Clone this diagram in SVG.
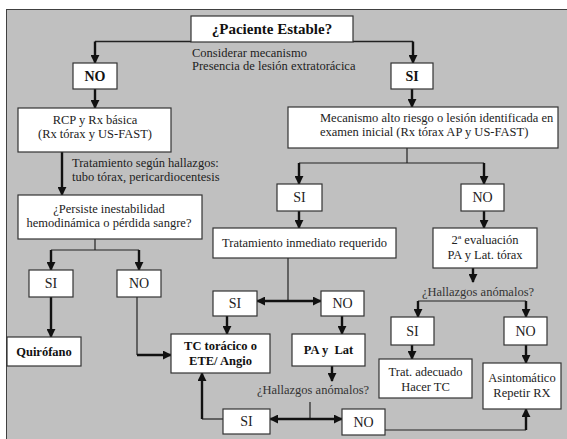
<svg xmlns="http://www.w3.org/2000/svg" width="567" height="439" viewBox="0 0 567 439" font-family="'Liberation Serif', 'Times New Roman', Times, 'DejaVu Serif', serif">
  <defs>
    <style>
      .box { fill: #ffffff; stroke: #333333; stroke-width: 1.2; }
      .t { font-family: 'Liberation Serif', 'Times New Roman', Times, 'DejaVu Serif', serif; font-size: 12.5px; fill: #222222; }
      .c { text-anchor: middle; }
      .b { font-weight: bold; fill: #111111; }
      .thin { fill: none; stroke: #222222; stroke-width: 1.2; }
      .thick { fill: none; stroke: #111111; stroke-width: 2.4; }
      .arr { marker-end: url(#ah); }
      .dbl { marker-start: url(#ah); marker-end: url(#ah); }
    </style>
    <marker id="ah" viewBox="0 0 10 10" refX="9" refY="5" markerWidth="9" markerHeight="9" markerUnits="userSpaceOnUse" orient="auto-start-reverse">
      <path d="M0,0 L10,5 L0,10 z" fill="#111111"/>
    </marker>
  </defs>

  <!-- background panel -->
  <rect x="6.5" y="9.5" width="570" height="440" fill="#c0c0c0" stroke="#404040" stroke-width="1"/>

  <!-- connectors -->
  <g id="connectors">
    <path class="thin" d="M95,41.5 H191 M353,41.5 H413" style="stroke-width:1.6"/>
    <path class="thick arr" d="M95,41.5 V63"/>
    <path class="thick arr" d="M413,41.5 V63"/>
    <path class="thick arr" d="M95,89 V108"/>
    <path class="thick arr" d="M412,89 V107"/>
    <path class="thick arr" d="M62,152 V195"/>

    <path class="thin" d="M95,239 V250 M51,250 H139"/>
    <path class="thick arr" d="M51,250 V270"/>
    <path class="thick arr" d="M139,250 V270"/>
    <path class="thick arr" d="M51,297 V337"/>
    <path class="thin" d="M137,297 V355"/>
    <path class="thick arr" d="M137,355 H171"/>

    <path class="thin" d="M407,148 V163 M299,163 H484"/>
    <path class="thick arr" d="M299,163 V184"/>
    <path class="thick arr" d="M484,163 V184"/>
    <path class="thick arr" d="M299,211 V228"/>
    <path class="thick arr" d="M484,211 V228"/>

    <path class="thin" d="M288,258 V301"/>
    <path class="thick dbl" d="M257,301 H321"/>
    <path class="thick arr" d="M227,316 V334"/>
    <path class="thick arr" d="M342,316 V334"/>
    <path class="thick arr" d="M332,366 V381"/>

    <path class="thin" d="M310,402 V419"/>
    <path class="thick dbl" d="M270,419 H342"/>
    <path class="thin" d="M223,419 H202"/>
    <path class="thick arr" d="M202,419 V373"/>
    <path class="thin" d="M385,430 H526"/>
    <path class="thick arr" d="M526,430 V409"/>

    <path class="thick arr" d="M473,268 V282"/>
    <path class="thin" d="M418,301 H526"/>
    <path class="thick arr" d="M418,301 V317"/>
    <path class="thick arr" d="M526,301 V317"/>
    <path class="thick arr" d="M412,345 V359"/>
    <path class="thick arr" d="M526,345 V363"/>
  </g>

  <!-- nodes -->
  <g id="start">
    <rect class="box" x="191" y="16" width="162" height="26"/>
    <text class="t c b" x="272" y="34" style="font-size:15px">¿Paciente Estable?</text>
  </g>
  <g id="note-top">
    <text class="t" x="192" y="57">Considerar mecanismo</text>
    <text class="t" x="192" y="70">Presencia de lesión extratorácica</text>
  </g>

  <g id="no-1">
    <rect class="box" x="73" y="63" width="44" height="26"/>
    <text class="t c b" x="95" y="81" style="font-size:14px">NO</text>
  </g>
  <g id="si-1">
    <rect class="box" x="391" y="63" width="42" height="26"/>
    <text class="t c b" x="412" y="81" style="font-size:14px">SI</text>
  </g>

  <g id="rcp">
    <rect class="box" x="18" y="108" width="153" height="44"/>
    <text class="t c" x="95" y="124">RCP y Rx básica</text>
    <text class="t c" x="95" y="138">(Rx tórax y US-FAST)</text>
  </g>
  <g id="note-left">
    <text class="t" x="72" y="167">Tratamiento según hallazgos:</text>
    <text class="t" x="72" y="181">tubo tórax, pericardiocentesis</text>
  </g>

  <g id="mecanismo">
    <rect class="box" x="288" y="107" width="270" height="41"/>
    <text class="t" x="320" y="122">Mecanismo alto riesgo o lesión identificada en</text>
    <text class="t" x="320" y="136">examen inicial (Rx tórax AP y US-FAST)</text>
  </g>

  <g id="persiste">
    <rect class="box" x="18" y="195" width="184" height="44"/>
    <text class="t c" x="109" y="213">¿Persiste inestabilidad</text>
    <text class="t c" x="109" y="227">hemodinámica o pérdida sangre?</text>
  </g>

  <g id="si-2">
    <rect class="box" x="29" y="270" width="44" height="27"/>
    <text class="t c" x="51" y="288" style="font-size:14px">SI</text>
  </g>
  <g id="no-2">
    <rect class="box" x="117" y="270" width="44" height="27"/>
    <text class="t c" x="139" y="288" style="font-size:14px">NO</text>
  </g>
  <g id="quirofano">
    <rect class="box" x="7" y="337" width="74" height="29"/>
    <text class="t c b" x="44" y="356">Quirófano</text>
  </g>

  <g id="si-3">
    <rect class="box" x="277" y="184" width="45" height="27"/>
    <text class="t c" x="299.5" y="202" style="font-size:14px">SI</text>
  </g>
  <g id="no-3">
    <rect class="box" x="461" y="184" width="43" height="27"/>
    <text class="t c" x="482.5" y="202" style="font-size:14px">NO</text>
  </g>

  <g id="tratamiento">
    <rect class="box" x="213" y="228" width="183" height="30"/>
    <text class="t c" x="304.5" y="247">Tratamiento inmediato requerido</text>
  </g>
  <g id="evaluacion">
    <rect class="box" x="433" y="228" width="104" height="40"/>
    <text class="t c" x="485" y="244">2ª evaluación</text>
    <text class="t c" x="485" y="259">PA y Lat. tórax</text>
  </g>

  <g id="si-4">
    <rect class="box" x="213" y="291" width="44" height="25"/>
    <text class="t c" x="235" y="308" style="font-size:14px">SI</text>
  </g>
  <g id="no-4">
    <rect class="box" x="321" y="291" width="43" height="25"/>
    <text class="t c" x="342.5" y="308" style="font-size:14px">NO</text>
  </g>

  <g id="tc">
    <rect class="box" x="171" y="334" width="99" height="39"/>
    <text class="t c b" x="220.5" y="350">TC torácico o</text>
    <text class="t c b" x="220.5" y="365">ETE/ Angio</text>
  </g>
  <g id="pa-lat">
    <rect class="box" x="292" y="334" width="73" height="32"/>
    <text class="t c b" x="328.5" y="354" xml:space="preserve">PA y  Lat</text>
  </g>

  <g id="hallazgos-1">
    <text class="t c" x="313" y="394" style="fill:#333333">¿Hallazgos anómalos?</text>
  </g>
  <g id="si-5">
    <rect class="box" x="223" y="409" width="47" height="25"/>
    <text class="t c" x="246.5" y="426" style="font-size:14px">SI</text>
  </g>
  <g id="no-5">
    <rect class="box" x="342" y="409" width="43" height="26"/>
    <text class="t c" x="363.5" y="427" style="font-size:14px">NO</text>
  </g>

  <g id="hallazgos-2">
    <text class="t c" x="478" y="296" style="fill:#333333">¿Hallazgos anómalos?</text>
  </g>
  <g id="si-6">
    <rect class="box" x="391" y="317" width="43" height="28"/>
    <text class="t c" x="412.5" y="336" style="font-size:14px">SI</text>
  </g>
  <g id="no-6">
    <rect class="box" x="504" y="317" width="43" height="28"/>
    <text class="t c" x="525.5" y="336" style="font-size:14px">NO</text>
  </g>

  <g id="trat-adecuado">
    <rect class="box" x="379" y="359" width="93" height="39"/>
    <text class="t c" x="425.5" y="376">Trat. adecuado</text>
    <text class="t c" x="425.5" y="391">Hacer TC</text>
  </g>
  <g id="asintomatico">
    <rect class="box" x="483" y="363" width="78" height="46"/>
    <text class="t c" x="522" y="382">Asintomático</text>
    <text class="t c" x="522" y="397">Repetir RX</text>
  </g>
</svg>
